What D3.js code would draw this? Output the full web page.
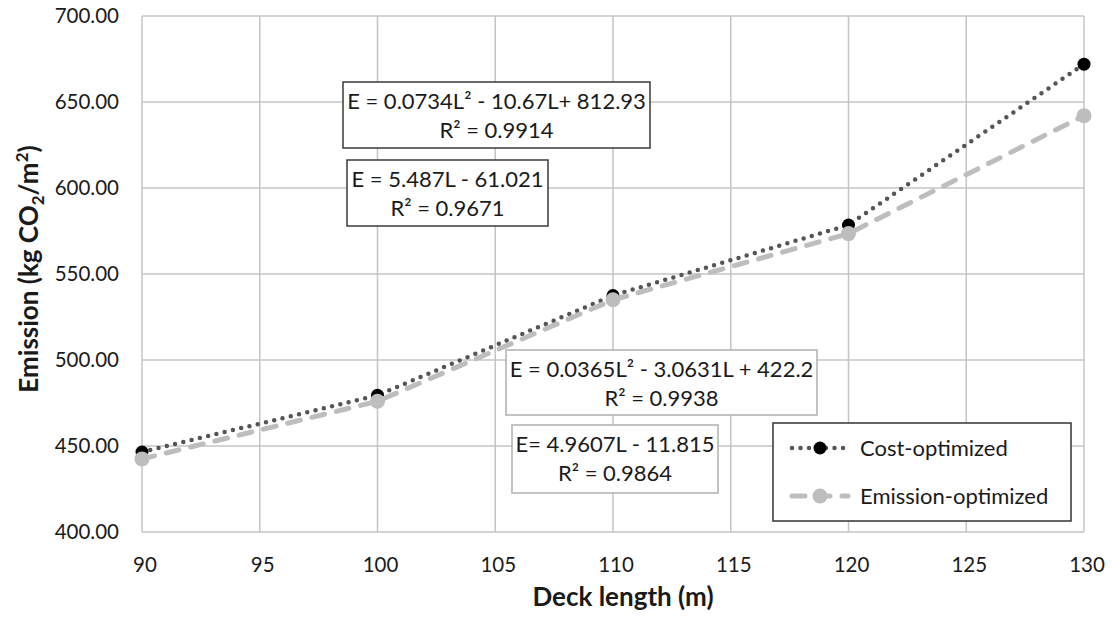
<!DOCTYPE html>
<html>
<head>
<meta charset="utf-8">
<script src="https://cdn.jsdelivr.net/npm/d3@7"></script>
<style>
  html, body { margin: 0; padding: 0; background: #fff; }
  svg { display: block; font-family: Lato, "Open Sans", sans-serif; }
  .grid line { stroke: #c4c4c4; stroke-width: 1.5; }
  .tick-label { font-size: 20.5px; fill: #1a1a1a; }
  .axis-title { font-size: 26px; font-weight: bold; fill: #1a1a1a; }
  .note text, .legend text { font-size: 22px; fill: #1a1a1a; }
</style>
</head>
<body>
<div id="chart"></div>
<script>
// deck lengths (m) and emissions (kg CO2/m2)
const lengths = [90, 100, 110, 120, 130];
const costOptimized = [446.5, 479.5, 537.5, 578.5, 672];
const emissionOptimized = [442.5, 476, 535, 573.5, 642];

const xTicks = [90, 95, 100, 105, 110, 115, 120, 125, 130];
const yTicks = [400, 450, 500, 550, 600, 650, 700];

const seriesNames = ['Cost-optimized', 'Emission-optimized'];

// trendline labels, [equation, r2]
const trendLabels = [
  ['E = 0.0734L² - 10.67L+ 812.93', 'R² = 0.9914'],
  ['E = 5.487L - 61.021', 'R² = 0.9671'],
  ['E = 0.0365L² - 3.0631L + 422.2', 'R² = 0.9938'],
  ['E= 4.9607L - 11.815', 'R² = 0.9864'],
];

const width = 1112;
const height = 617;
const margin = { top: 16, right: 28, bottom: 85, left: 142 };

// box placement for the trend labels (pixels), series index for border colour
const noteBoxes = [
  { x: 343, y: 82, w: 307, h: 66, series: 0 },
  { x: 347, y: 160, w: 201, h: 66, series: 0 },
  { x: 506, y: 350, w: 311, h: 65, series: 1 },
  { x: 512, y: 425, w: 206, h: 68, series: 1 },
];

const svg = d3.select('#chart')
  .append('svg')
  .attr('width', width)
  .attr('height', height);

const x = d3.scaleLinear()
  .domain([90, 130])
  .range([margin.left, width - margin.right]);

const y = d3.scaleLinear()
  .domain([400, 700])
  .range([height - margin.bottom, margin.top]);

// gridlines
const grid = svg.append('g').attr('class', 'grid');
grid.selectAll('.v')
  .data(xTicks)
  .join('line')
  .attr('class', 'v')
  .attr('x1', d => x(d))
  .attr('x2', d => x(d))
  .attr('y1', y(700))
  .attr('y2', y(400));
grid.selectAll('.h')
  .data(yTicks)
  .join('line')
  .attr('class', 'h')
  .attr('x1', x(90))
  .attr('x2', x(130))
  .attr('y1', d => y(d))
  .attr('y2', d => y(d));

// tick labels
svg.append('g')
  .selectAll('text')
  .data(yTicks)
  .join('text')
  .attr('class', 'tick-label')
  .attr('x', x(90) - 23)
  .attr('y', d => y(d))
  .attr('dy', '0.35em')
  .attr('text-anchor', 'end')
  .text(d3.format('.2f'));

svg.append('g')
  .selectAll('text')
  .data(xTicks)
  .join('text')
  .attr('class', 'tick-label')
  .attr('x', d => x(d) + 3)
  .attr('y', y(400) + 40)
  .attr('text-anchor', 'middle')
  .text(d => d);

// axis titles
svg.append('text')
  .attr('class', 'axis-title')
  .attr('x', (x(90) + x(130)) / 2 + 10)
  .attr('y', 606)
  .attr('text-anchor', 'middle')
  .text('Deck length (m)');

const yTitle = svg.append('text')
  .attr('class', 'axis-title')
  .attr('text-anchor', 'middle')
  .attr('transform', `translate(38, ${(y(400) + y(700)) / 2 - 5}) rotate(-90)`);
yTitle.append('tspan').text('Emission (kg CO');
yTitle.append('tspan').attr('font-size', 17).attr('dy', 6).text('2');
yTitle.append('tspan').attr('dy', -6).text('/m');
yTitle.append('tspan').attr('font-size', 17).attr('dy', -10).text('2');
yTitle.append('tspan').attr('dy', 10).text(')');

// series
const series = [
  { name: seriesNames[0], values: costOptimized, line: '#555', dash: '0 8.5', width: 4.5, cap: 'round', dot: '#000', r: 6.5 },
  { name: seriesNames[1], values: emissionOptimized, line: '#bdbdbd', dash: '13 12', width: 5, cap: 'round', dot: '#bdbdbd', r: 7.5 },
];

const line = d3.line()
  .x(d => x(d[0]))
  .y(d => y(d[1]));

series.forEach(s => {
  const pts = lengths.map((l, i) => [l, s.values[i]]);
  svg.append('path')
    .datum(pts)
    .attr('d', line)
    .attr('fill', 'none')
    .attr('stroke', s.line)
    .attr('stroke-width', s.width)
    .attr('stroke-dasharray', s.dash)
    .attr('stroke-linecap', s.cap);
  svg.append('g')
    .selectAll('circle')
    .data(pts)
    .join('circle')
    .attr('cx', d => x(d[0]))
    .attr('cy', d => y(d[1]))
    .attr('r', s.r)
    .attr('fill', s.dot);
});

// trendline labels
const notes = svg.append('g')
  .attr('class', 'note')
  .selectAll('g')
  .data(noteBoxes)
  .join('g');

notes.append('rect')
  .attr('x', d => d.x)
  .attr('y', d => d.y)
  .attr('width', d => d.w)
  .attr('height', d => d.h)
  .attr('fill', '#fff')
  .attr('stroke', d => (d.series === 0 ? '#3a3a3a' : '#b0b0b0'))
  .attr('stroke-width', 1.5);

notes.each(function (d, i) {
  const g = d3.select(this);
  trendLabels[i].forEach((t, j) => {
    g.append('text')
      .attr('x', d.x + d.w / 2)
      .attr('y', d.y + 19 + j * 29)
      .attr('dy', '0.35em')
      .attr('text-anchor', 'middle')
      .text(t);
  });
});

// legend
const legend = svg.append('g').attr('class', 'legend');
legend.append('rect')
  .attr('x', 773)
  .attr('y', 423)
  .attr('width', 298)
  .attr('height', 98)
  .attr('fill', '#fff')
  .attr('stroke', '#333')
  .attr('stroke-width', 1.5);

series.forEach((s, i) => {
  const ly = 448 + i * 48;
  legend.append('line')
    .attr('x1', 792)
    .attr('x2', 848)
    .attr('y1', ly)
    .attr('y2', ly)
    .attr('stroke', s.line)
    .attr('stroke-width', s.width)
    .attr('stroke-dasharray', s.dash)
    .attr('stroke-linecap', s.cap);
  legend.append('circle')
    .attr('cx', 820)
    .attr('cy', ly)
    .attr('r', s.r)
    .attr('fill', s.dot);
  legend.append('text')
    .attr('x', 860)
    .attr('y', ly)
    .attr('dy', '0.35em')
    .text(s.name);
});
</script>
</body>
</html>
